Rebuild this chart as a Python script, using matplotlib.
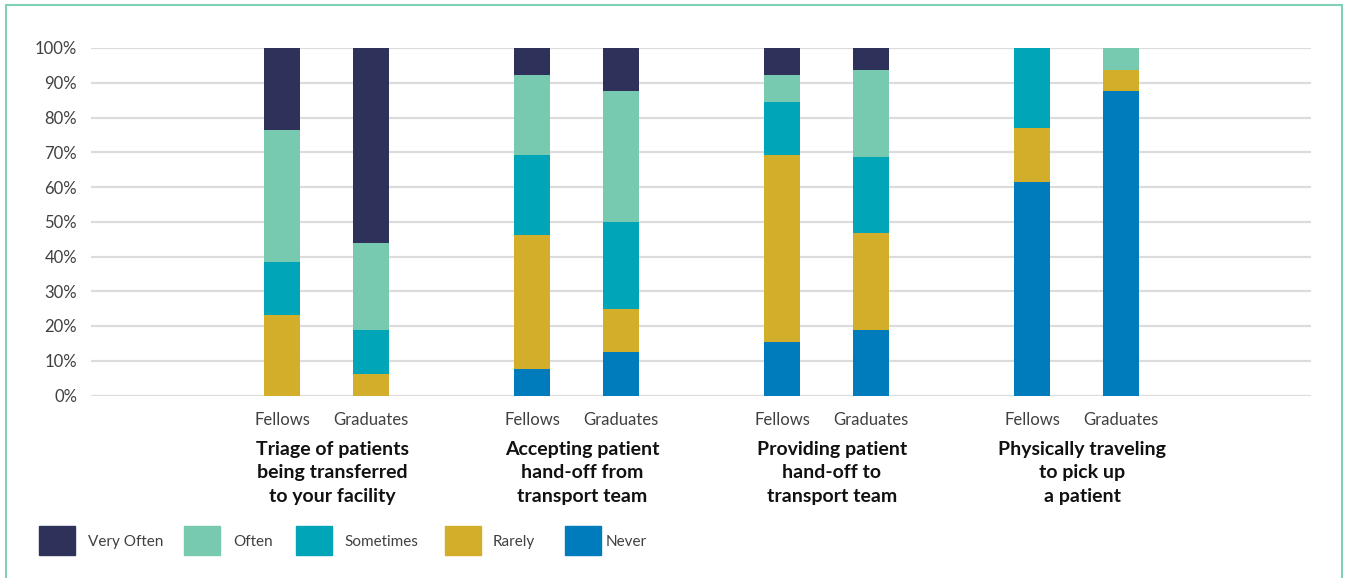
import matplotlib
matplotlib.use("Agg")
import matplotlib.pyplot as plt
import matplotlib.transforms as mtransforms
from matplotlib.patches import Rectangle
import numpy as np

plt.rcParams['font.family'] = ['Lato', 'DejaVu Sans']

groups = ["Triage of patients\nbeing transferred\nto your facility",
          "Accepting patient\nhand-off from\ntransport team",
          "Providing patient\nhand-off to\ntransport team",
          "Physically traveling\nto pick up\na patient"]
cohorts = ["Fellows", "Graduates"]
series = ["Never", "Rarely", "Sometimes", "Often", "Very Often"]
legend_order = ["Very Often", "Often", "Sometimes", "Rarely", "Never"]
colors = {"Very Often": "#2e3159", "Often": "#77c9b0", "Sometimes": "#00a6b8",
          "Rarely": "#d2ae2a", "Never": "#007bbb"}

# values (%) per series: [G1 Fellows, G1 Grads, G2 Fellows, G2 Grads, ...]
never      = [0.0, 0.0, 7.7, 12.5, 15.4, 18.75, 61.5, 87.5]
rarely     = [23.3, 6.25, 38.5, 12.5, 53.8, 28.1, 15.4, 6.25]
sometimes  = [15.1, 12.5, 23.1, 25.0, 15.4, 21.9, 23.1, 0.0]
often      = [38.0, 25.0, 23.0, 37.5, 7.7, 25.0, 0.0, 6.25]
very_often = [23.6, 56.25, 7.7, 12.5, 7.7, 6.25, 0.0, 0.0]
values = {"Never": never, "Rarely": rarely, "Sometimes": sometimes,
          "Often": often, "Very Often": very_often}

W, H = 1346, 578
fig = plt.figure(figsize=(W / 100, H / 100), dpi=100)
ax = fig.add_axes([91 / W, (H - 395.5) / H, (1311 - 91) / W, (395.5 - 48) / H])

offset = 89 / 250 / 2
bar_w = 36 / 250
xpos = []
for g in range(len(groups)):
    xpos += [g - offset, g + offset]
xpos = np.array(xpos)

bottom = np.zeros(len(xpos))
for s in series:
    v = np.array(values[s])
    ax.bar(xpos, v, bar_w, bottom=bottom, color=colors[s], zorder=3, linewidth=0)
    bottom += v

ax.set_ylim(0, 100)
ax.set_xlim(-0.942, 3.938)
ax.set_yticks(np.arange(0, 101, 10))
ax.set_yticklabels([f"{t}%" for t in range(0, 101, 10)])
ax.yaxis.grid(True, color="#dcdcdc", linewidth=1.6, zorder=0)
ax.set_xticks(xpos)
ax.set_xticklabels(cohorts * len(groups))
ax.tick_params(axis='both', length=0, labelsize=12, labelcolor="#404040")
ax.tick_params(axis='y', pad=10)
ax.tick_params(axis='x', pad=12)
for sp in ax.spines.values():
    sp.set_visible(False)

trans = mtransforms.blended_transform_factory(ax.transData, fig.transFigure)
for g, label in enumerate(groups):
    ax.text(g + 0.022, (H - 441) / H, label, transform=trans, ha='center', va='top',
            fontsize=14, fontweight='bold', color="#111111", linespacing=1.45)

# legend
leg_sq_x = [39, 184, 296, 445, 565]
leg_tx_x = [88, 233, 344, 493, 606]
for name, sx, tx in zip(legend_order, leg_sq_x, leg_tx_x):
    fig.patches.append(Rectangle((sx / W, (H - 555) / H), 36 / W, 29 / H,
                                 transform=fig.transFigure, color=colors[name]))
    fig.text(tx / W, (H - 542) / H, name, ha='left', va='center', fontsize=11,
             color="#404040")

# border
fig.patches.append(Rectangle((6 / W, -0.05), (1342 - 6) / W, (H - 5) / H + 0.05,
                             transform=fig.transFigure, fill=False,
                             edgecolor="#7fd0b8", linewidth=1.5))

fig.savefig("out.png", dpi=100)
